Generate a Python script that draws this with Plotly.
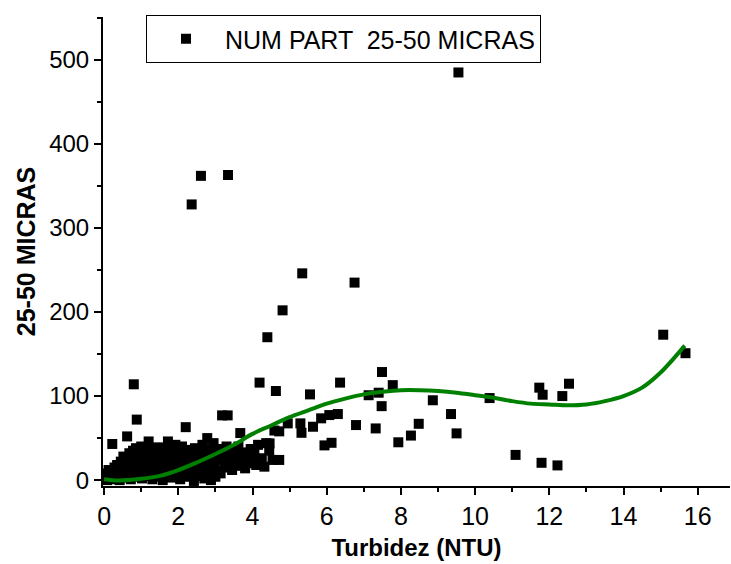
import plotly.graph_objects as go

# ---- data ----
turb = [
    0.02, 0.05, 0.08, 0.10, 0.12, 0.15, 0.18, 0.20, 0.22, 0.25, 0.28, 0.30, 0.32, 0.35, 0.38, 0.40, 0.42, 0.45, 0.48, 0.50,
    0.52, 0.55, 0.58, 0.60, 0.62, 0.64, 0.66, 0.68, 0.70, 0.72, 0.74, 0.76, 0.78, 0.80, 0.80, 0.82, 0.84, 0.86, 0.88, 0.88,
    0.90, 0.92, 0.95, 0.97, 0.99,
    1.00, 1.02, 1.04, 1.06, 1.08, 1.10, 1.12, 1.15, 1.18, 1.20, 1.20, 1.22, 1.25, 1.28, 1.30, 1.32, 1.35, 1.38, 1.40, 1.42,
    1.45, 1.48, 1.50,
    1.52, 1.55, 1.58, 1.60, 1.62, 1.65, 1.68, 1.70, 1.72, 1.75, 1.78, 1.80, 1.82, 1.85, 1.88, 1.90, 1.92, 1.95, 1.98, 2.00,
    2.02, 2.05, 2.08, 2.10, 2.12, 2.15, 2.18, 2.20, 2.22, 2.25, 2.28, 2.30, 2.36, 2.35, 2.38, 2.40, 2.42, 2.45, 2.48, 2.50,
    2.52, 2.55, 2.58, 2.61, 2.62, 2.65, 2.68, 2.70, 2.72, 2.75, 2.78, 2.80, 2.82, 2.85, 2.88, 2.90, 2.92, 2.95, 2.98,
    3.00, 3.03, 3.06, 3.10, 3.14, 3.18, 3.20, 3.22, 3.25, 3.30, 3.33, 3.34, 3.36, 3.40, 3.45, 3.48,
    3.52, 3.55, 3.60, 3.62, 3.67, 3.70, 3.75, 3.80, 3.85, 3.90, 3.95, 4.00, 4.05, 4.10, 4.15, 4.19, 4.25, 4.32, 4.37, 4.40,
    4.45, 4.54, 4.59, 4.63,
    4.46, 4.72, 4.72, 4.81, 4.95, 5.29, 5.32, 5.34, 5.55, 5.63, 5.85, 5.94, 6.07, 6.13, 6.30, 6.36, 6.75, 6.79, 7.13, 7.32,
    7.40, 7.48, 7.49, 7.78, 7.93, 8.27, 8.48, 8.86, 9.35, 9.50, 9.55, 10.39, 11.09, 11.73, 11.82, 11.79, 12.22, 12.35, 12.53,
    15.07, 15.67,
]
micras = [
    2, 8, 0, 5, 12, 3, 1, 10, 43, 6, 15, 2, 9, 18, 4, 12, 0, 22, 7, 14,
    28, 3, 10, 19, 52, 25, 5, 32, 13, 1, 22, 8, 35, 114, 17, 27, 4, 38, 72, 11,
    20, 30, 6, 15, 25,
    40, 2, 18, 33, 9, 27, 14, 37, 5, 46, 22, 30, 11, 35, 1, 19, 26, 8, 31, 15,
    39, 4, 23,
    12, 33, 0, 28, 17, 7, 38, 21, 46, 13, 30, 3, 25, 10, 35, 18, 42, 6, 27, 15,
    33, 1, 22, 40, 9, 29, 17, 63, 4, 36, 12, 24, 328, 31, 7, 19, -1, 38, 14, 27,
    5, 34, 20, 362, 10, 42, 24, 2, 30, 16, 50, 38, 8, 26, 0, 33, 13, 44, 21,
    4, 29, 37, 11, 8, 77, 24, 33, 15, 40, 77, 363, 20, 28, 12, 35,
    22, 30, 17, 40, 56, 25, 33, 14, 28, 20, 37, 24, 31, 18, 42, 116, 26, 16, 44, 170,
    35, 24, 59, 106,
    43.7, 58, 24, 202, 67.5, 67.5, 56.3, 246, 102, 63.5, 73.5, 41.3, 77.4, 44.4, 78.6, 116, 235, 65.5, 101, 61.5,
    104, 88, 128.6, 113, 45, 53, 67, 95, 78.6, 55.6, 485, 97.6, 30, 110, 101.6, 20.6, 17.5, 100, 114.7,
    173, 151,
]

fit_x = [0.0, 0.4, 1.0, 1.5, 2.0, 2.5, 3.0, 3.5, 4.0, 4.5, 5.0, 5.5, 6.0, 6.5, 7.0, 7.5, 8.0, 8.5, 9.0, 9.5,
         10.0, 10.5, 11.0, 11.5, 12.0, 12.5, 13.0, 13.5, 14.0, 14.5, 15.0, 15.65]
fit_y = [1, -0.5, 1.5, 5, 12, 21, 31, 42, 55, 65, 75, 83, 91, 97, 102, 105, 107, 107, 106, 104,
         101, 98, 94, 91, 90, 89, 90, 94, 100, 110, 128, 160]

x_ticks = [0, 2, 4, 6, 8, 10, 12, 14, 16]
y_ticks = [0, 100, 200, 300, 400, 500]

# ---- figure ----
W, H = 731, 564
L, R, T, B = 103, 1, 17, 78

fig = go.Figure()
fig.add_trace(go.Scatter(
    x=turb, y=micras, mode="markers", name="NUM PART  25-50 MICRAS",
    marker=dict(symbol="square", size=10, color="black", line=dict(width=0)),
))
fig.add_trace(go.Scatter(
    x=fit_x, y=fit_y, mode="lines", showlegend=False,
    line=dict(color="#008000", width=4, shape="spline", smoothing=1.0),
))

axis_common = dict(
    showgrid=False, zeroline=False, showline=True, linecolor="black", linewidth=2,
    ticks="outside", ticklen=7, tickwidth=2, tickcolor="black", mirror=False,
)

fig.update_xaxes(
    **axis_common, range=[-0.03, 16.87], tickvals=x_ticks, ticktext=[str(v) for v in x_ticks],
    minor=dict(ticks="outside", ticklen=4, tickwidth=2, tickcolor="black", dtick=1, tick0=0),
    tickfont=dict(family="Liberation Sans, Arial", size=25, color="black"),
    title=dict(text="<b>Turbidez (NTU)</b>", font=dict(family="Liberation Sans, Arial", size=24, color="black"),
               standoff=10),
)
fig.update_yaxes(
    **axis_common, range=[-7, 551], tickvals=y_ticks, ticktext=[str(v) for v in y_ticks],
    minor=dict(ticks="outside", ticklen=4, tickwidth=2, tickcolor="black", dtick=50, tick0=0),
    tickfont=dict(family="Liberation Sans, Arial", size=24, color="black"),
    title=dict(text="<b>25-50 MICRAS</b>", font=dict(family="Liberation Sans, Arial", size=25, color="black"),
               standoff=6),
)

fig.update_layout(
    width=W, height=H, margin=dict(l=L, r=R, t=T, b=B, pad=0),
    plot_bgcolor="white", paper_bgcolor="white",
    legend=dict(
        x=(146 - L) / (W - L - R), y=1 + 2 / (H - T - B), xanchor="left", yanchor="top",
        bgcolor="white", bordercolor="black", borderwidth=1,
        font=dict(family="Liberation Sans, Arial", size=25, color="black"),
        itemwidth=68,
    ),
)

fig.write_html("out.html")
